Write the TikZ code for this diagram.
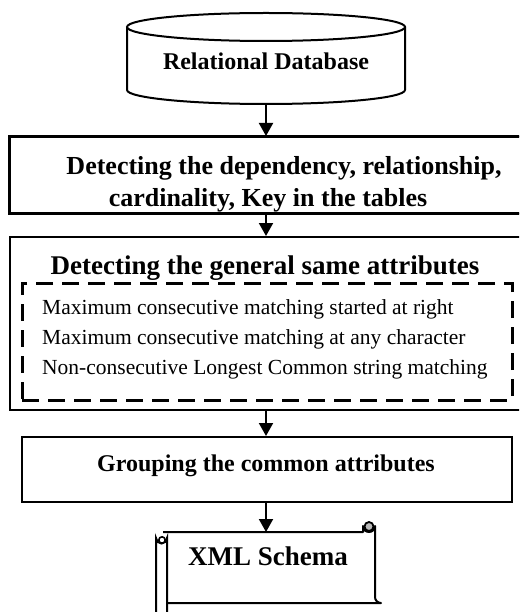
\documentclass[tikz,border=0pt]{standalone}
\usepackage{fontspec}
\setmainfont{Liberation Serif}
\usetikzlibrary{arrows.meta}
\tikzset{
  x=1pt, y=-1pt,
  outl/.style={draw=black, line width=2pt},
  boxst/.style={draw=black, line width=2pt, fill=white, rectangle, inner sep=0pt},
  dashbox/.style={draw=black, line width=3pt, dash pattern=on 17pt off 9pt, rectangle, inner sep=0pt},
  arr/.style={line width=2pt, -{Triangle[length=13pt,width=14pt]}},
  txt/.style={inner sep=0pt, anchor=base},
  txtl/.style={inner sep=0pt, anchor=base west},
}
\begin{document}
\begin{tikzpicture}
\clip (0,0) rectangle (519,612);
\fill[white] (0,0) rectangle (519,612);
% cylinder
\draw[outl, fill=white] (127,27) -- (127,90) arc[start angle=180, end angle=360, x radius=139, y radius=-14] -- (405,27);
\draw[outl] (266,27) ellipse[x radius=139, y radius=14];
\node[txt, font=\fontsize{24}{28}\selectfont\bfseries] (cyltext) at (266,70) {Relational Database};
\coordinate (cylbot) at (266,104);
% box 2
\node[boxst, minimum width=520pt, minimum height=76pt] (b2) at (270,175) {};
\begin{scope}
\clip (10,137) rectangle (530,212);
\node[txt, font=\fontsize{26}{30}\selectfont\bfseries] (b2a) at (284,175) {Detecting the dependency, relationship,};
\node[txt, font=\fontsize{26}{30}\selectfont\bfseries] (b2b) at (268,207) {cardinality, Key in the tables};
\end{scope}
\draw[outl] (b2.north west) rectangle (b2.south east);
% box 3
\node[boxst, minimum width=520pt, minimum height=173pt] (b3) at (270,323.5) {};
\node[txt, font=\fontsize{27}{31}\selectfont\bfseries] (b3t) at (265,274) {Detecting the general same attributes};
\node[dashbox, minimum width=490pt, minimum height=117pt] (db) at (267,341.5) {};
\node[txtl, font=\fontsize{21.5}{25}\selectfont] (i1) at (42,314) {Maximum consecutive matching started at right};
\node[txtl, font=\fontsize{21.5}{25}\selectfont] (i2) at (42,344) {Maximum consecutive matching at any character};
\node[txtl, font=\fontsize{21.5}{25}\selectfont] (i3) at (42,374) {Non-consecutive Longest Common string matching};
% box 4
\node[boxst, minimum width=490pt, minimum height=65pt] (b4) at (267,469.5) {};
\node[txt, font=\fontsize{24}{28}\selectfont\bfseries] (b4t) at (266,471) {Grouping the common attributes};
% scroll
\draw[outl, fill=white, line join=round] (163,532) -- (363,532) -- (363,526) arc[start angle=180, end angle=0, radius=6] -- (375,597) arc[start angle=0, end angle=-90, radius=-6] -- (167,603);
\draw[outl, fill=white] (156,620) -- (156,538) arc[start angle=180, end angle=0, radius=5.5] -- (167,620);
\draw[line width=1.6pt, fill=white] (162,540) circle[radius=3.2];
\draw[line width=1.8pt, fill=gray!55] (369,526.5) circle[radius=4.5];
\coordinate (scrolltop) at (266,532);
\node[txt, font=\fontsize{27}{31}\selectfont\bfseries] (xml) at (268,565) {XML Schema};
% arrows
\draw[arr] (cylbot) -- (cylbot |- b2.north);
\draw[arr] (cylbot |- b2.south) -- (cylbot |- b3.north);
\draw[arr] (cylbot |- b3.south) -- (cylbot |- b4.north);
\draw[arr] (cylbot |- b4.south) -- (scrolltop);
\end{tikzpicture}
\end{document}
